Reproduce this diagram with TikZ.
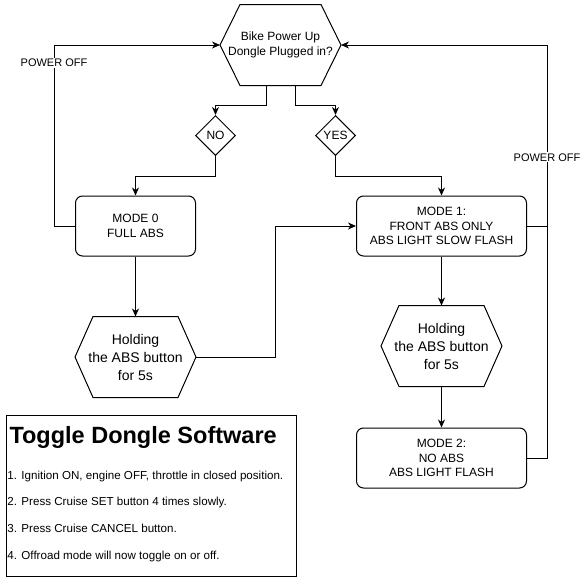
\documentclass[tikz,border=0pt]{standalone}
\usepackage{fontspec}
\setmainfont{Liberation Sans}
\usetikzlibrary{arrows.meta, positioning, shapes.geometric}

\begin{document}
\begin{tikzpicture}[
    x=1pt, y=-1pt,
    line width=1pt,
    node distance=40pt and 40pt,
    every node/.style={align=center, inner sep=0pt, font=\fontsize{12}{14.4}\selectfont},
    modebox/.style={draw, rounded corners=7pt, minimum width=#1, minimum height=60pt},
    modebox/.default=170pt,
    hexbox/.style={minimum width=120pt, minimum height=80pt},
    holdtext/.style={font=\fontsize{14}{18}\selectfont},
    choice/.style={draw, diamond, aspect=1, minimum width=40pt, minimum height=40pt},
    flow/.style={-{Stealth[length=8pt,width=7pt,inset=2.5pt]}},
    edgelabel/.style={fill=white, inner sep=1pt, font=\fontsize{11}{13}\selectfont}
]
    \useasboundingbox (0,0) rectangle (584,584);

    % Nodes
    \node[hexbox] (top) at (280.5,45) {Bike Power Up\\Dongle Plugged in?};
    \node[choice] (no) at (215.5,135.5) {NO};
    \node[choice] (yes) at (335.5,135.5) {YES};
    \node[modebox=120pt] (mode0) at (135.5,226) {MODE 0\\FULL ABS};
    \node[modebox, right=160pt of mode0] (mode1) {MODE 1:\\FRONT ABS ONLY\\ABS LIGHT SLOW FLASH};
    \node[hexbox, holdtext, below=60pt of mode0] (hold1) {Holding\\the ABS button\\for 5s};
    \node[hexbox, holdtext, below=49pt of mode1] (hold2) {Holding\\the ABS button\\for 5s};
    \node[modebox, below=41pt of hold2] (mode2) {MODE 2:\\NO ABS\\ABS LIGHT FLASH};

    % Hexagon outlines
    \foreach \n/\d in {top/20, hold1/18, hold2/18}
        \draw ([xshift=\d pt]\n.north west) -- ([xshift=-\d pt]\n.north east) -- (\n.east)
            -- ([xshift=-\d pt]\n.south east) -- ([xshift=\d pt]\n.south west) -- (\n.west) -- cycle;

    % Decision
    \draw[flow] ([xshift=-14.5pt]top.south) -- ++(0,20) -| (no.north);
    \draw[flow] ([xshift=14.5pt]top.south) -- ++(0,20) -| (yes.north);
    \draw[flow] (no.south) -- ++(0,20) -| (mode0.north);
    \draw[flow] (yes.south) -- ++(0,20) -| (mode1.north);

    % Mode changes
    \draw[flow] (mode0) -- (hold1);
    \draw[flow] (hold1.east) -- ++(79.5,0) |- (mode1.west);
    \draw[flow] (mode1) -- (hold2);
    \draw[flow] (hold2) -- (mode2);

    % Power off loops
    \draw[flow] (mode0.west) -- ++(-21,0) |- node[edgelabel, pos=0.45] {POWER OFF} (top.west);
    \draw (mode1.east) -- ++(20,0);
    \draw[flow] (mode2.east) -- ++(20,0) |- node[edgelabel, pos=0.364] {POWER OFF} (top.east);

    % Legend
    \node[draw, anchor=north west, minimum width=290.5pt, minimum height=161pt] (legend) at (5.5,415) {};
    \node[anchor=base west, font=\fontsize{23.5}{28}\selectfont\bfseries] (title) at (9,443) {Toggle Dongle Software};
    \foreach \txt [count=\i] in {{1. Ignition ON, engine OFF, throttle in closed position.},
                                 {2. Press Cruise SET button 4 times slowly.},
                                 {3. Press Cruise CANCEL button.},
                                 {4. Offroad mode will now toggle on or off.}}
        \node[anchor=base west, font=\fontsize{11.6}{14}\selectfont] (item\i) at (7,452.5+26.7*\i) {\txt};
\end{tikzpicture}
\end{document}
